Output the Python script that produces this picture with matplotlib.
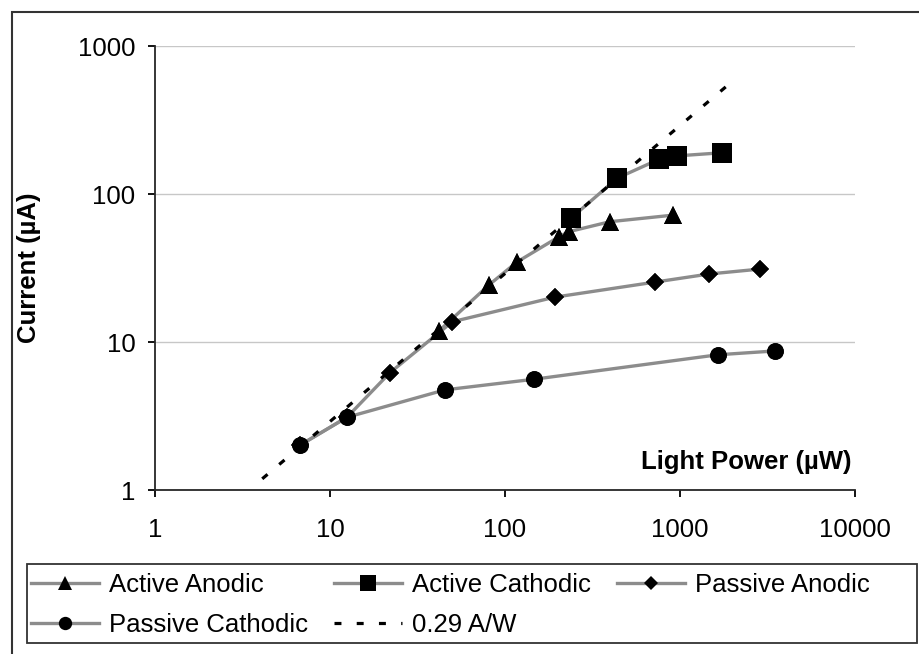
#!/usr/bin/env python

# Photocurrent v light power for the four electrode configurations (log-log)

import matplotlib
from matplotlib.backends.backend_agg import \
                 FigureCanvasAgg as FigureCanvas
from matplotlib.figure import Figure
from matplotlib.patches import Rectangle

# Data
aa_power=[42, 81, 117, 204, 231, 398, 916]        # Active Anodic
aa_current=[11.9, 24.3, 34.7, 51.5, 55.6, 65, 72]
ac_power=[238, 438, 762, 965, 1745]               # Active Cathodic
ac_current=[68.5, 128, 172, 181, 190]
pa_power=[6.7, 12.5, 22, 50, 193, 720, 1465, 2865]  # Passive Anodic
pa_current=[2.0, 3.1, 6.2, 13.7, 20.1, 25.4, 28.8, 31.1]
pc_power=[6.7, 12.5, 45.4, 146, 1650, 3490]       # Passive Cathodic
pc_current=[2.0, 3.1, 4.75, 5.6, 8.2, 8.7]
fit_power=[4.1, 1990]                             # 0.29 A/W responsivity
fit_current=[1.19, 577]

x_ticks=[1, 10, 100, 1000, 10000]
x_ticklabels=['1', '10', '100', '1000', '10000']
y_ticks=[1, 10, 100, 1000]
y_ticklabels=['1', '10', '100', '1000']

font = {'family' : 'sans-serif',
        'sans-serif' : 'Liberation Sans',
        'weight' : 'normal',
        'size'   : 18.5}
matplotlib.rc('font', **font)
matplotlib.rcParams['lines.scale_dashes']=False

fig=Figure(figsize=(9.19,6.54),  # Width, Height (inches)
           dpi=100,
           facecolor='white')
canvas=FigureCanvas(fig)

# Outer frame (only top and left edges fall inside the picture)
fig.patches.append(Rectangle((12/919,-0.1),1.2,1-12/654+0.1,
                   transform=fig.transFigure,fill=False,
                   edgecolor=(0.2,0.2,0.2),linewidth=1.5))

ax=fig.add_axes([155/919,1-490/654,700/919,444/654])
ax.set_xscale('log')
ax.set_yscale('log')
ax.set_xlim(1,10000)
ax.set_ylim(1,1000)

line_col=(0.55,0.55,0.55)
series=[('Active Anodic',aa_power,aa_current,'^',12.5),
        ('Active Cathodic',ac_power,ac_current,'s',15),
        ('Passive Anodic',pa_power,pa_current,'D',8.8),
        ('Passive Cathodic',pc_power,pc_current,'o',12)]
handles={}
for name,px,py,mk,ms in series:
    h,=ax.plot(px,py,color=line_col,linewidth=2.4,
               marker=mk,markersize=ms,markerfacecolor='black',
               markeredgecolor='black',markeredgewidth=0,
               zorder=2,label=name)
    handles[name]=h
# Responsivity line
h,=ax.plot(fit_power,fit_current,color='black',linewidth=2.3,
           dashes=(5,11),zorder=3,label='0.29 A/W')
handles['0.29 A/W']=h
# Markers again on top of the dashed line
for name,px,py,mk,ms in series:
    ax.plot(px,py,linestyle='none',marker=mk,markersize=ms,
            markerfacecolor='black',markeredgewidth=0,zorder=4)

# Grid and axes
ax.grid(True,axis='y',which='major',color=(0.78,0.78,0.78),linewidth=1)
ax.set_axisbelow(True)
ax.spines['top'].set_visible(False)
ax.spines['right'].set_visible(False)
for s in ('left','bottom'):
    ax.spines[s].set_color((0.15,0.15,0.15))
    ax.spines[s].set_linewidth(1.3)
ax.set_xticks(x_ticks)
ax.set_xticklabels(x_ticklabels)
ax.set_yticks(y_ticks)
ax.set_yticklabels(y_ticklabels)
ax.minorticks_off()
ax.tick_params(axis='x',direction='out',length=5,width=1.3,pad=15)
ax.tick_params(axis='y',direction='out',length=5,width=1.3,pad=9)

ax.text(0.9957,0.063,'Light Power (\u00b5W)',transform=ax.transAxes,
        ha='right',va='center',fontweight='bold',fontsize=18.5)
fig.text(29/919,1-268/654,'Current (\u00b5A)',rotation=90,
         ha='center',va='center',fontweight='bold',fontsize=18.5)

# Legend box
fig.patches.append(Rectangle((27/919,1-643/654),890/919,79/654,
                   transform=fig.transFigure,fill=False,
                   edgecolor=(0.2,0.2,0.2),linewidth=1.3))
order=['Active Anodic','Passive Cathodic','Active Cathodic',
       '0.29 A/W','Passive Anodic']
leg=fig.legend([handles[n] for n in order],order,ncol=3,
               loc='upper left',bbox_to_anchor=(31/919,1-573/654),
               frameon=False,borderpad=0,borderaxespad=0,
               handlelength=2.65,handletextpad=0.4,columnspacing=1.0,
               labelspacing=0.62,markerscale=0.8,fontsize=18.5)

# Output as png
fig.savefig('out.png')
